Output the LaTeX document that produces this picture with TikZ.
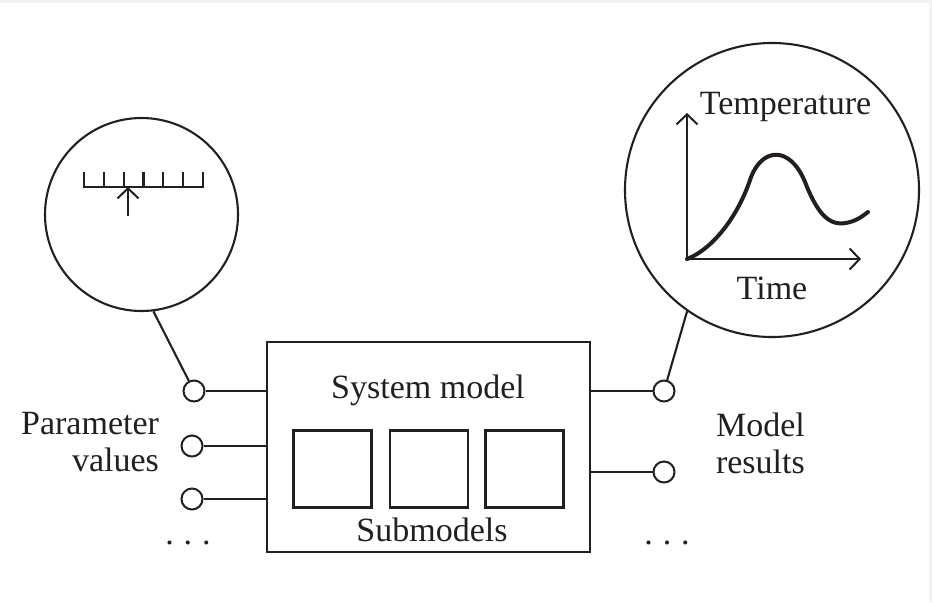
\documentclass[tikz,border=0pt]{standalone}
\usepackage{fontspec}
\setmainfont{Liberation Serif}
\usetikzlibrary{arrows.meta}
\definecolor{ink}{RGB}{35,31,32}
\definecolor{edge}{RGB}{243,243,243}
\begin{document}
\begin{tikzpicture}[x=1pt,y=-1pt,line width=2.1pt,draw=ink,text=ink,
  every node/.style={font=\fontsize{34}{40}\selectfont,inner sep=0pt},
  lens/.style={draw,circle,line width=2.1pt},
  jack/.style={draw,circle,minimum size=21pt,line width=2pt},
  subbox/.style={draw,minimum width=78pt,minimum height=77pt,line width=2.1pt},
  openarrow/.style={-{Straight Barb[length=10pt,width=21pt,line width=2pt]}},
  curve/.style={line width=4pt,line cap=round,line join=round}]
% page with a faint frame along the top and right
\fill[edge] (0,0) rectangle (932,603);
\fill[white] (0,3) rectangle (929,603);
\useasboundingbox (0,0) rectangle (932,603);

% magnifier circles
\node[lens,minimum size=193pt] (pcirc) at (141.5,214.5) {};
\node[lens,minimum size=294pt] (rcirc) at (772,190) {};

% scale with pointer
\draw (84,172) -- (84,187) -- (203,187) -- (203,172);
\foreach \i in {1,...,5} \draw ({84+\i*19.83},187) -- ++(0,-15);
\coordinate (ptrfoot) at (128,216);
\coordinate (ptrtip) at (128,187);
\draw[openarrow] (ptrfoot) -- (ptrtip);

% temperature over time plot
\coordinate (org) at (687,259);
\coordinate (yaxtop) at (687,113);
\coordinate (xaxend) at (861,259);
\draw[openarrow] (org) -- (yaxtop);
\draw[openarrow] (org) -- (xaxend);
\draw[curve] (687,259) .. controls (715,248) and (739,213) .. (750,180)
  .. controls (761,147) and (790,145) .. (805,182)
  .. controls (818,215) and (830,228) .. (850,222)
  .. controls (858,220) and (864,215) .. (868,212);
\node[anchor=base] (lbltemp) at (785.5,114) {Temperature};
\node[anchor=base] (lbltime) at (772,299) {Time};

% system model with submodels
\node[draw,minimum width=323pt,minimum height=210pt] (sys) at (428.5,447) {};
\node[subbox] (sub1) at (332.5,469) {};
\node[subbox] (sub2) at (429,469) {};
\node[subbox] (sub3) at (524.5,469) {};
\node[anchor=base] (lblsys) at (428,398) {System model};
\node[anchor=base] (lblsub) at (432,541) {Submodels};

% inputs
\node[jack] (in1) at (194,391) {};
\node[jack] (in2) at (192,446) {};
\node[jack] (in3) at (192,499) {};
\foreach \p in {in1,in2,in3} \draw (\p) -- (\p -| sys.west);
\node[anchor=base east] (lblpar1) at (160,434) {Parameter};
\node[anchor=base east] (lblpar2) at (160,471) {values};
\node[anchor=base] (dotsin) at (188,544) {.\hspace{10pt}.\hspace{10pt}.};

% outputs
\node[jack] (out1) at (664,391) {};
\node[jack] (out2) at (664,472) {};
\foreach \p in {out1,out2} \draw (\p) -- (\p -| sys.east);
\node[anchor=base west] (lblres1) at (715,436) {Model};
\node[anchor=base west] (lblres2) at (715,473) {results};
\node[anchor=base] (dotsout) at (667,544) {.\hspace{10pt}.\hspace{10pt}.};

% leaders from the circles to the first input and output
\draw (pcirc.-83) -- (in1);
\draw (rcirc.-125) -- (out1);
\end{tikzpicture}
\end{document}
